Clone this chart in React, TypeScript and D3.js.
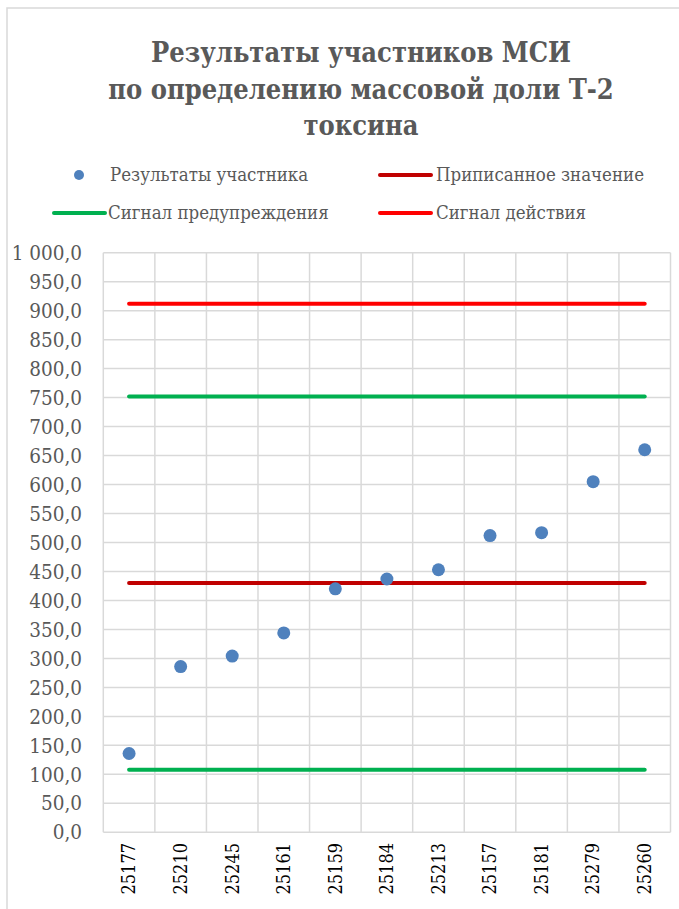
import React from "react";
import * as d3 from "d3";

const categories = ["25177","25210","25245","25161","25159","25184","25213","25157","25181","25279","25260"];
const results = [136, 286, 304, 344, 420, 437, 453, 512, 517, 605, 660];
const assignedValue = 430;
const warningLow = 108;
const warningHigh = 752;
const actionHigh = 912;
const yTicks = [0,50,100,150,200,250,300,350,400,450,500,550,600,650,700,750,800,850,900,950,1000];
const titleLines = ["Результаты участников МСИ", "по определению массовой доли Т-2", "токсина"];

const W = 679, H = 909;
const plot = { left: 103.3, right: 670.5, top: 252.7, bottom: 832.3 };
const textColor = "#595959";
const gridColor = "#d9d9d9";
const font = "DejaVu Serif Condensed";

const fmt = (v: number) => d3.format(",.1f")(v).replace(/,/g, " ").replace(".", ",");

export default function App() {
  const x = d3.scaleBand<string>().domain(categories).range([plot.left, plot.right]).padding(0);
  const y = d3.scaleLinear().domain([0, 1000]).range([plot.bottom, plot.top]);
  const cx = (c: string) => (x(c) as number) + x.bandwidth() / 2;
  const x0 = cx(categories[0]);
  const x1 = cx(categories[categories.length - 1]);

  const hLines = [
    { v: actionHigh, color: "#ff0000" },
    { v: warningHigh, color: "#00b050" },
    { v: warningLow, color: "#00b050" },
    { v: assignedValue, color: "#c00000" },
  ];

  const legend = [
    { kind: "dot", color: "#4f81bd", label: "Результаты участника", mx: 79, tx: 110, y: 175 },
    { kind: "line", color: "#c00000", label: "Приписанное значение", mx: 380, tx: 436, y: 175 },
    { kind: "line", color: "#00b050", label: "Сигнал предупреждения", mx: 54, tx: 108, y: 213 },
    { kind: "line", color: "#ff0000", label: "Сигнал действия", mx: 380, tx: 436, y: 213 },
  ];

  return (
    <svg width={W} height={H} style={{ position: "absolute", left: 0, top: 0, background: "#fff", fontFamily: font }}>
      <rect x={7} y={8} width={740} height={940} fill="#fff" stroke={gridColor} strokeWidth={1.5} />
      {titleLines.map((t, i) => (
        <text key={i} x={361} y={62 + i * 36.5} textAnchor="middle" fontSize={27} fontWeight="bold" fill={textColor}>{t}</text>
      ))}
      {legend.map((l, i) => (
        <g key={"lg" + i}>
          {l.kind === "dot" ? (
            <circle cx={l.mx} cy={l.y} r={5} fill={l.color} />
          ) : (
            <line x1={l.mx} x2={l.mx + 51} y1={l.y} y2={l.y} stroke={l.color} strokeWidth={4} strokeLinecap="round" />
          )}
          <text x={l.tx} y={l.y + 6} fontSize={18.5} fill={textColor}>{l.label}</text>
        </g>
      ))}
      {yTicks.map((t) => (
        <line key={"h" + t} x1={plot.left} x2={plot.right} y1={y(t)} y2={y(t)} stroke={gridColor} strokeWidth={1.5} />
      ))}
      {categories.map((c) => (
        <line key={"v" + c} x1={x(c) as number} x2={x(c) as number} y1={plot.top} y2={plot.bottom} stroke={gridColor} strokeWidth={1.5} />
      ))}
      <line x1={plot.right} x2={plot.right} y1={plot.top} y2={plot.bottom} stroke={gridColor} strokeWidth={1.5} />
      {yTicks.map((t) => (
        <text key={"yl" + t} x={82} y={y(t)} dy="0.35em" textAnchor="end" fontSize={20.5} fill={textColor}>{fmt(t)}</text>
      ))}
      {categories.map((c) => (
        <text key={"xl" + c} transform={`translate(${cx(c)},${843}) rotate(-90)`} dy="0.35em" textAnchor="end" fontSize={18} fill="#000">{c}</text>
      ))}
      {hLines.map((l, i) => (
        <line key={"l" + i} x1={x0} x2={x1} y1={y(l.v)} y2={y(l.v)} stroke={l.color} strokeWidth={4} strokeLinecap="round" />
      ))}
      {categories.map((c, i) => (
        <circle key={"p" + c} cx={cx(c)} cy={y(results[i])} r={6.5} fill="#4f81bd" />
      ))}
    </svg>
  );
}
